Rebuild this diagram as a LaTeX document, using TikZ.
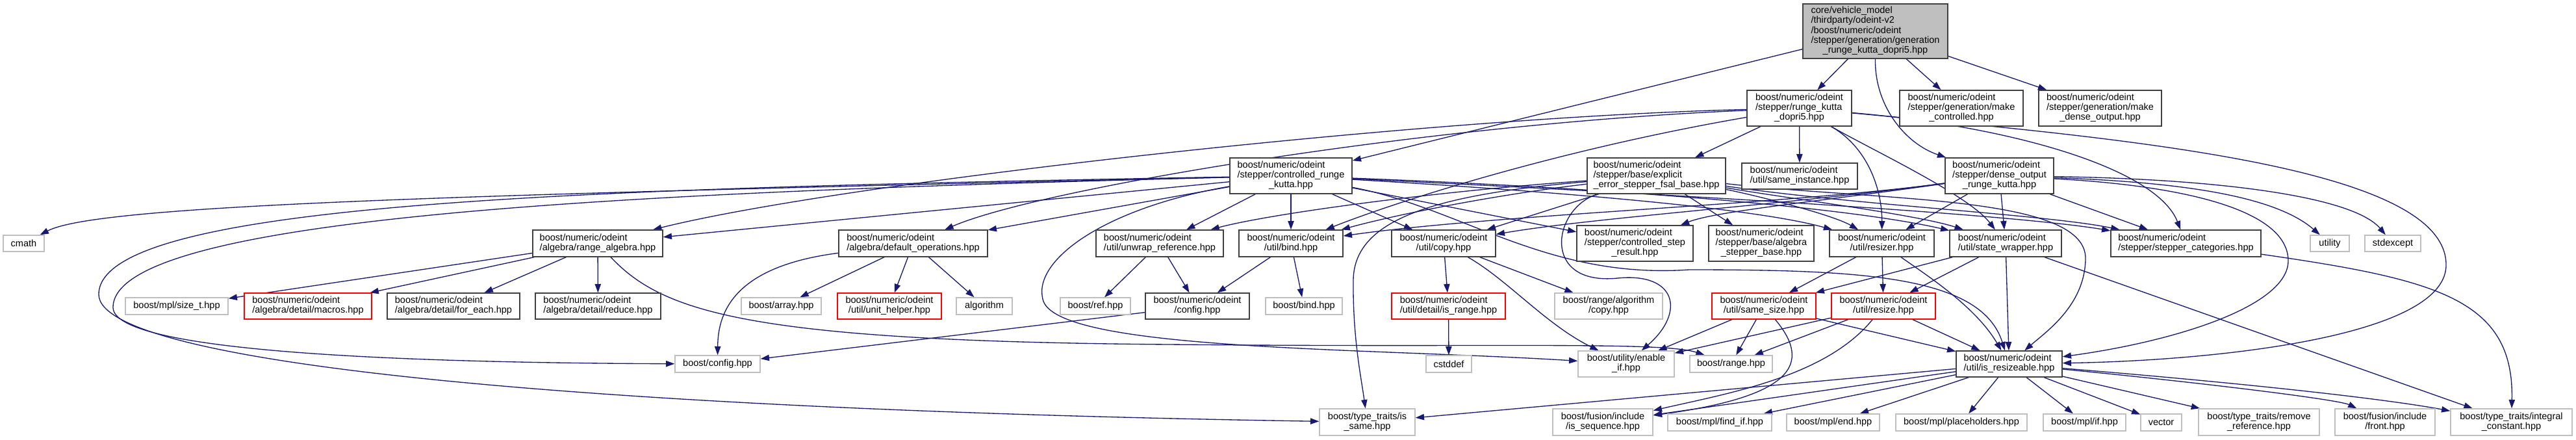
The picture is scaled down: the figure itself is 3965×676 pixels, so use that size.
\documentclass[tikz,border=0pt]{standalone}
\usepackage{fontspec}
\setmainfont{Liberation Sans}
\usetikzlibrary{arrows.meta}
\definecolor{edgec}{HTML}{191970}
\definecolor{grayb}{HTML}{BFBFBF}
\definecolor{darkb}{HTML}{404040}
\definecolor{redb}{HTML}{FF0000}
\newcommand{\nodefont}{\fontsize{10.9}{11.25}\selectfont}
\newcommand{\ml}[2]{\begin{tabular}{@{}l@{}}#1\\\multicolumn{1}{@{}c@{}}{#2}\end{tabular}}
\newcommand{\dnode}[7]{%
  \pgfmathsetmacro\dnX{(#3+#5)/2}%
  \pgfmathsetmacro\dnY{(#4+#6)/2}%
  \pgfmathsetmacro\dnW{(#5-#3)*0.75}%
  \pgfmathsetmacro\dnH{(#6-#4)*0.75}%
  \node[#1,minimum width=\dnW pt,minimum height=\dnH pt] (#2) at (\dnX,\dnY) {#7};}
\pgfdeclarelayer{edges}
\pgfsetlayers{edges,main}
\tikzset{
  basebox/.style={rectangle,inner sep=0pt,line width=1pt,fill=white,font=\nodefont,text=black},
  nblack/.style={basebox,draw=darkb},
  ngray/.style={basebox,draw=grayb},
  nred/.style={basebox,draw=redb},
  ntop/.style={basebox,draw=darkb,fill=grayb},
  dep/.style={draw=edgec,line width=1pt,-{Triangle[length=10pt,width=7pt]}}
}
\begin{document}
\begin{tikzpicture}[x=0.75pt,y=-0.75pt]
\useasboundingbox (0,0) rectangle (3965,676);
% level 0
\dnode{ntop}{top}{2775}{6}{2998}{90}{\ml{core/vehicle\_model\\/thirdparty/odeint-v2\\/boost/numeric/odeint\\/stepper/generation/generation}{\_runge\_kutta\_dopri5.hpp}}
% level 1
\dnode{nblack}{rk5}{2689}{139}{2850}{194}{\ml{boost/numeric/odeint\\/stepper/runge\_kutta}{\_dopri5.hpp}}
\dnode{nblack}{mkc}{2924}{139}{3114}{194}{\ml{boost/numeric/odeint\\/stepper/generation/make}{\_controlled.hpp}}
\dnode{nblack}{mkd}{3138}{139}{3327}{194}{\ml{boost/numeric/odeint\\/stepper/generation/make}{\_dense\_output.hpp}}
% level 2
\dnode{nblack}{crk}{1893}{243}{2081}{298}{\ml{boost/numeric/odeint\\/stepper/controlled\_runge}{\_kutta.hpp}}
\dnode{nblack}{fsal}{2443}{243}{2656}{298}{\ml{boost/numeric/odeint\\/stepper/base/explicit}{\_error\_stepper\_fsal\_base.hpp}}
\dnode{nblack}{sinst}{2681}{251}{2859}{291}{\ml{boost/numeric/odeint}{/util/same\_instance.hpp}}
\dnode{nblack}{drk}{2994}{243}{3161}{298}{\ml{boost/numeric/odeint\\/stepper/dense\_output}{\_runge\_kutta.hpp}}
% level 3
\dnode{ngray}{cmath}{5}{362}{68}{387}{cmath}
\dnode{nblack}{ralg}{820}{354}{1020}{395}{\ml{boost/numeric/odeint}{/algebra/range\_algebra.hpp}}
\dnode{nblack}{dops}{1291}{354}{1520}{395}{\ml{boost/numeric/odeint}{/algebra/default\_operations.hpp}}
\dnode{nblack}{unwr}{1687}{354}{1883}{395}{\ml{boost/numeric/odeint}{/util/unwrap\_reference.hpp}}
\dnode{nblack}{ubind}{1907}{354}{2067}{395}{\ml{boost/numeric/odeint}{/util/bind.hpp}}
\dnode{nblack}{ucopy}{2142}{354}{2302}{395}{\ml{boost/numeric/odeint}{/util/copy.hpp}}
\dnode{nblack}{csr}{2427}{347}{2606}{402}{\ml{boost/numeric/odeint\\/stepper/controlled\_step}{\_result.hpp}}
\dnode{nblack}{asb}{2630}{347}{2792}{402}{\ml{boost/numeric/odeint\\/stepper/base/algebra}{\_stepper\_base.hpp}}
\dnode{nblack}{rszr}{2816}{354}{2977}{395}{\ml{boost/numeric/odeint}{/util/resizer.hpp}}
\dnode{nblack}{swrap}{3001}{354}{3173}{395}{\ml{boost/numeric/odeint}{/util/state\_wrapper.hpp}}
\dnode{nblack}{scat}{3249}{354}{3480}{395}{\ml{boost/numeric/odeint}{/stepper/stepper\_categories.hpp}}
\dnode{ngray}{util}{3556}{362}{3616}{387}{utility}
\dnode{ngray}{stdex}{3640}{362}{3726}{387}{stdexcept}
% level 4
\dnode{ngray}{sizet}{193}{458}{351}{484}{boost/mpl/size\_t.hpp}
\dnode{nred}{macros}{376}{451}{572}{491}{\ml{boost/numeric/odeint}{/algebra/detail/macros.hpp}}
\dnode{nblack}{foreach}{596}{451}{800}{491}{\ml{boost/numeric/odeint}{/algebra/detail/for\_each.hpp}}
\dnode{nblack}{reduce}{824}{451}{1017}{491}{\ml{boost/numeric/odeint}{/algebra/detail/reduce.hpp}}
\dnode{ngray}{barray}{1141}{458}{1264}{484}{boost/array.hpp}
\dnode{nred}{unith}{1289}{451}{1449}{491}{\ml{boost/numeric/odeint}{/util/unit\_helper.hpp}}
\dnode{ngray}{algo}{1472}{458}{1558}{484}{algorithm}
\dnode{ngray}{bref}{1632}{458}{1740}{484}{boost/ref.hpp}
\dnode{nblack}{ocfg}{1763}{451}{1923}{491}{\ml{boost/numeric/odeint}{/config.hpp}}
\dnode{ngray}{bbind}{1948}{458}{2066}{484}{boost/bind.hpp}
\dnode{nred}{isrange}{2142}{451}{2317}{491}{\ml{boost/numeric/odeint}{/util/detail/is\_range.hpp}}
\dnode{ngray}{rcopy}{2393}{451}{2559}{491}{\ml{boost/range/algorithm}{/copy.hpp}}
\dnode{nred}{ssize}{2635}{451}{2795}{491}{\ml{boost/numeric/odeint}{/util/same\_size.hpp}}
\dnode{nred}{resize}{2819}{451}{2979}{491}{\ml{boost/numeric/odeint}{/util/resize.hpp}}
% level 5
\dnode{ngray}{bcfg}{1039}{547}{1170}{573}{boost/config.hpp}
\dnode{ngray}{cstddef}{2195}{547}{2265}{573}{cstddef}
\dnode{ngray}{enif}{2429}{540}{2577}{580}{\ml{boost/utility/enable}{\_if.hpp}}
\dnode{ngray}{brange}{2601}{547}{2728}{573}{boost/range.hpp}
\dnode{nblack}{isrsz}{3011}{540}{3174}{580}{\ml{boost/numeric/odeint}{/util/is\_resizeable.hpp}}
% level 6
\dnode{ngray}{issame}{2031}{629}{2178}{670}{\ml{boost/type\_traits/is}{\_same.hpp}}
\dnode{ngray}{isseq}{2390}{629}{2544}{670}{\ml{boost/fusion/include}{/is\_sequence.hpp}}
\dnode{ngray}{findif}{2567}{637}{2727}{663}{boost/mpl/find\_if.hpp}
\dnode{ngray}{mend}{2750}{637}{2893}{663}{boost/mpl/end.hpp}
\dnode{ngray}{ph}{2918}{637}{3120}{663}{boost/mpl/placeholders.hpp}
\dnode{ngray}{mif}{3145}{637}{3272}{663}{boost/mpl/if.hpp}
\dnode{ngray}{vec}{3295}{637}{3358}{663}{vector}
\dnode{ngray}{rref}{3384}{629}{3570}{670}{\ml{boost/type\_traits/remove}{\_reference.hpp}}
\dnode{ngray}{front}{3594}{629}{3748}{670}{\ml{boost/fusion/include}{/front.hpp}}
\dnode{ngray}{intc}{3772}{629}{3959}{670}{\ml{boost/type\_traits/integral}{\_constant.hpp}}

\begin{pgfonlayer}{edges}
% top
\draw[dep] (top) -- (rk5);
\draw[dep] (top) -- (crk);
\draw[dep] (top.south) .. controls (2885,160) and (2930,220) .. (drk);
\draw[dep] (top) -- (mkc);
\draw[dep] (top) -- (mkd);
% runge_kutta_dopri5
\draw[dep] (rk5) .. controls (2200,180) and (1300,280) .. (ralg);
\draw[dep] (rk5) .. controls (2200,190) and (1600,290) .. (dops);
\draw[dep] (rk5) -- (fsal);
\draw[dep] (rk5) .. controls (2400,230) and (2150,310) .. (ubind);
\draw[dep] (rk5) -- (sinst);
\draw[dep] (rk5) .. controls (2880,230) and (2897,300) .. (rszr);
\draw[dep] (rk5) .. controls (2880,230) and (3030,300) .. (swrap);
\draw[dep] (rk5) .. controls (3100,195) and (3320,260) .. (scat);
\draw[dep] (rk5) .. controls (3300,215) and (3770,260) .. (3765,410) .. controls (3760,520) and (3400,555) .. (isrsz);
% controlled_runge_kutta
\draw[dep] (crk) .. controls (700,300) and (150,315) .. (cmath);
\draw[dep] (crk) .. controls (1000,295) and (174,330) .. (174,473) .. controls (174,540) and (600,558) .. (bcfg);
\draw[dep] (crk) .. controls (900,290) and (152,310) .. (152,453) .. controls (152,560) and (900,630) .. (issame);
\draw[dep] (crk) .. controls (1700,320) and (1590,400) .. (1605,460) .. controls (1620,540) and (2100,535) .. (enif);
\draw[dep] (crk) -- (ubind);
\draw[dep] (crk) -- (unwr);
\draw[dep] (crk) -- (ucopy);
\draw[dep] (crk) -- (csr);
\draw[dep] (crk) .. controls (2400,295) and (2700,320) .. (rszr);
\draw[dep] (crk) .. controls (2500,290) and (2850,320) .. (swrap);
\draw[dep] (crk) .. controls (2600,300) and (3100,330) .. (scat);
\draw[dep] (crk) .. controls (2250,320) and (2380,430) .. (2600,415) .. controls (2870,415) and (3050,425) .. (isrsz);
\draw[dep] (crk) -- (ralg);
\draw[dep] (crk) -- (dops);
% explicit_error_stepper_fsal_base
\draw[dep] (fsal) .. controls (2390,320) and (2370,440) .. (2490,428) .. controls (2580,419) and (2595,480) .. (enif);
\draw[dep] (fsal) .. controls (2200,300) and (2085,340) .. (2083,430) .. controls (2082,520) and (2095,580) .. (issame);
\draw[dep] (fsal) .. controls (2300,300) and (2150,330) .. (ubind);
\draw[dep] (fsal) .. controls (2200,295) and (1950,330) .. (unwr);
\draw[dep] (fsal) -- (ucopy);
\draw[dep] (fsal) -- (asb);
\draw[dep] (fsal) .. controls (2700,300) and (2820,330) .. (rszr);
\draw[dep] (fsal) .. controls (2750,305) and (2950,330) .. (swrap);
\draw[dep] (fsal) .. controls (2850,315) and (3150,330) .. (scat);
\draw[dep] (fsal) .. controls (2900,310) and (3215,300) .. (3210,400) .. controls (3208,470) and (3150,510) .. (isrsz);
% dense_output_runge_kutta
\draw[dep] (drk) .. controls (2750,315) and (2300,330) .. (ubind);
\draw[dep] (drk) .. controls (2750,315) and (2450,335) .. (ucopy);
\draw[dep] (drk) .. controls (2800,310) and (2640,325) .. (csr);
\draw[dep] (drk) -- (rszr);
\draw[dep] (drk) -- (swrap);
\draw[dep] (drk) -- (scat);
\draw[dep] (drk) .. controls (3350,280) and (3500,300) .. (util);
\draw[dep] (drk) .. controls (3400,275) and (3620,300) .. (stdex);
\draw[dep] (drk) .. controls (3350,285) and (3520,320) .. (3522,400) .. controls (3524,470) and (3350,525) .. (isrsz);
% range_algebra
\draw[dep] (ralg) -- (sizet);
\draw[dep] (ralg) -- (macros);
\draw[dep] (ralg) -- (foreach);
\draw[dep] (ralg) -- (reduce);
\draw[dep] (ralg) .. controls (1020,480) and (1150,525) .. (1800,530) .. controls (2300,535) and (2560,525) .. (brange);
% default_operations
\draw[dep] (dops) .. controls (1130,410) and (1105,480) .. (bcfg);
\draw[dep] (dops) -- (barray);
\draw[dep] (dops) -- (unith);
\draw[dep] (dops) -- (algo);
% unwrap_reference, bind, config
\draw[dep] (unwr) -- (bref);
\draw[dep] (unwr) -- (ocfg);
\draw[dep] (ubind) -- (ocfg);
\draw[dep] (ubind) -- (bbind);
\draw[dep] (ocfg) -- (bcfg);
% copy
\draw[dep] (ucopy) -- (isrange);
\draw[dep] (ucopy) -- (rcopy);
\draw[dep] (ucopy) .. controls (2320,430) and (2380,500) .. (enif);
\draw[dep] (isrange) -- (cstddef);
% resizer
\draw[dep] (rszr) -- (ssize);
\draw[dep] (rszr) -- (resize);
\draw[dep] (rszr) .. controls (2960,420) and (3040,470) .. (isrsz);
% state_wrapper
\draw[dep] (swrap) -- (ssize);
\draw[dep] (swrap) -- (resize);
\draw[dep] (swrap) -- (isrsz);
\draw[dep] (swrap) -- (intc);
% stepper_categories
\draw[dep] (scat) .. controls (3750,430) and (3870,460) .. (intc);
% same_size
\draw[dep] (ssize) -- (enif);
\draw[dep] (ssize) -- (brange);
\draw[dep] (ssize) -- (isrsz);
\draw[dep] (ssize) .. controls (2790,560) and (2760,610) .. (isseq);
% resize
\draw[dep] (resize) -- (enif);
\draw[dep] (resize) -- (brange);
\draw[dep] (resize) .. controls (2810,580) and (2660,605) .. (isseq);
\draw[dep] (resize) -- (isrsz);
% is_resizeable
\draw[dep] (isrsz) -- (issame);
\draw[dep] (isrsz) -- (isseq);
\draw[dep] (isrsz) -- (findif);
\draw[dep] (isrsz) -- (mend);
\draw[dep] (isrsz) -- (ph);
\draw[dep] (isrsz) -- (mif);
\draw[dep] (isrsz) -- (vec);
\draw[dep] (isrsz) -- (rref);
\draw[dep] (isrsz) .. controls (3400,590) and (3600,615) .. (front);
\draw[dep] (isrsz) .. controls (3400,585) and (3650,610) .. (intc);
\end{pgfonlayer}
\end{tikzpicture}
\end{document}
